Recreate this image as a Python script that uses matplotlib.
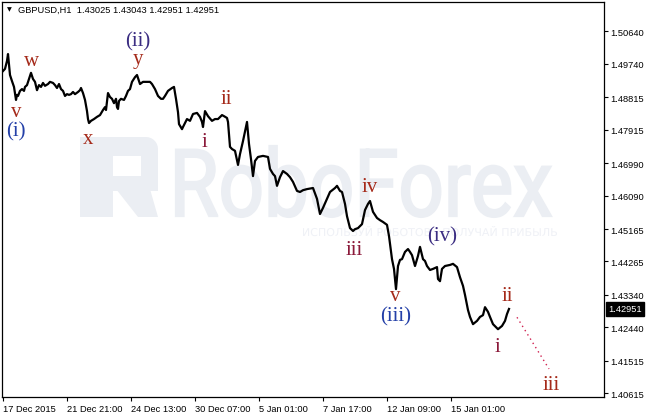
import numpy as np
import matplotlib
matplotlib.use('Agg')
import matplotlib.pyplot as plt
from matplotlib.textpath import TextPath
from matplotlib.font_manager import FontProperties
from matplotlib.patches import PathPatch, Polygon
from matplotlib.transforms import Affine2D, blended_transform_factory

W, H, DPI = 646, 414, 100

# GBPUSD H1 closes, bar = hours since the first bar on the chart
bar = [0, 2, 4, 5, 6, 7, 9, 11, 13, 14, 15, 17, 19, 21, 22, 24, 26, 28, 30, 32,
       34, 36, 38, 40, 42, 45, 47, 50, 52, 54, 56, 58, 60, 62, 64, 66, 68, 70, 72, 75,
       77, 78, 80, 82, 84, 85, 86, 88, 91, 94, 97, 100, 102, 103, 105, 107, 109, 111, 113, 114,
       115, 116, 118, 121, 123, 125,
       127, 129, 132, 134, 137, 140, 144, 147, 149, 152, 155, 158, 160, 162, 165,
       169, 171, 173, 175, 176, 179, 180, 182, 184, 187, 190, 194, 197, 199, 200,
       202, 205, 209, 212, 215, 219, 221, 224, 225, 227, 229, 232, 235, 237, 240,
       244, 246, 248, 250, 252, 255, 260, 265, 267, 270, 272, 274, 277, 280, 284,
       287, 290, 294, 297, 300, 304, 310, 314, 317, 320, 324, 327, 332, 334, 337,
       339, 342, 344, 347, 350, 352, 355, 359, 362, 365, 367, 370, 374, 377, 380,
       384, 386, 387, 389, 391, 393, 395, 397, 399, 402, 405, 407, 409, 412, 415,
       417, 420, 422, 424, 427, 430, 434, 435, 437, 439, 442, 447, 450, 454, 457,
       460, 462, 465, 467, 470, 474, 477, 480, 482, 485, 487, 490, 494, 495, 499,
       502, 504, 506]
close = [1.4954, 1.4960, 1.4982, 1.5001, 1.4971, 1.4943, 1.4926, 1.4910, 1.4874, 1.4888,
         1.4885, 1.4899, 1.4904, 1.4899, 1.4910, 1.4915, 1.4932, 1.4949, 1.4932, 1.4924,
         1.4901, 1.4915, 1.4910, 1.4921, 1.4913, 1.4918, 1.4924, 1.4921, 1.4915, 1.4907,
         1.4918, 1.4904, 1.4899, 1.4885, 1.4890, 1.4888, 1.4890, 1.4896, 1.4890, 1.4896,
         1.4901, 1.4907, 1.4893, 1.4874, 1.4843, 1.4821, 1.4810, 1.4816, 1.4821, 1.4827,
         1.4832, 1.4846, 1.4854, 1.4846, 1.4893, 1.4882, 1.4877, 1.4865, 1.4877, 1.4854,
         1.4849, 1.4871, 1.4877, 1.4874, 1.4885, 1.4899,
         1.4904, 1.4924, 1.4937, 1.4943, 1.4918, 1.4924, 1.4924, 1.4924, 1.4918, 1.4904,
         1.4885, 1.4877, 1.4877, 1.4885, 1.4899, 1.4907, 1.4910, 1.4877, 1.4840, 1.4807,
         1.4793, 1.4799, 1.4810, 1.4821, 1.4816, 1.4835, 1.4838, 1.4827, 1.4813, 1.4799,
         1.4843, 1.4829, 1.4816, 1.4821, 1.4821, 1.4832, 1.4829, 1.4824, 1.4813, 1.4744,
         1.4738, 1.4733, 1.4694, 1.4724, 1.4760, 1.4813, 1.4752, 1.4710, 1.4663, 1.4705,
         1.4716, 1.4719, 1.4716, 1.4683, 1.4669, 1.4663, 1.4636, 1.4660, 1.4677, 1.4669,
         1.4660, 1.4647, 1.4622, 1.4619, 1.4624, 1.4627, 1.4630, 1.4600, 1.4558, 1.4575,
         1.4600, 1.4619, 1.4630, 1.4636, 1.4622, 1.4619, 1.4586, 1.4552, 1.4519, 1.4511,
         1.4516, 1.4519, 1.4530, 1.4569, 1.4586, 1.4594, 1.4564, 1.4547, 1.4541, 1.4536,
         1.4528, 1.4497, 1.4475, 1.4433, 1.4406, 1.4350, 1.4414, 1.4431, 1.4433, 1.4453,
         1.4461, 1.4453, 1.4444, 1.4414, 1.4442, 1.4467, 1.4433, 1.4428, 1.4414, 1.4403,
         1.4406, 1.4411, 1.4378, 1.4372, 1.4406, 1.4414, 1.4417, 1.4420, 1.4411, 1.4383,
         1.4359, 1.4334, 1.4292, 1.4273, 1.4253, 1.4262, 1.4273, 1.4278, 1.4300, 1.4287,
         1.4273, 1.4253, 1.4242, 1.4239, 1.4248, 1.4262, 1.4281, 1.42951]

# projected wave iii
proj_bar = [514, 546]
proj_price = [1.4272, 1.4129]

# Elliott wave labels
wave_text = ['(i)', 'v', 'w', 'x', '(ii)', 'y', 'i', 'ii', 'iii', 'iv',
             'v', '(iii)', '(iv)', 'i', 'ii', 'iii']
wave_bar = [13, 13, 29, 85, 135, 135, 201, 223, 351, 367,
            392, 393, 439, 494, 504, 548]
wave_price = [1.4788, 1.4841, 1.4982, 1.4766, 1.5037, 1.4988, 1.4760, 1.4879, 1.4461, 1.4633,
              1.4331, 1.4275, 1.4497, 1.4190, 1.4331, 1.4087]
wave_color = ['#2440a8', '#a52a1a', '#a52a1a', '#a52a1a', '#3b2d82', '#a52a1a', '#8b1a3a',
              '#a52a1a', '#8b1a3a', '#a52a1a', '#a52a1a', '#2440a8', '#3b2d82', '#8b1a3a',
              '#a52a1a', '#a52a1a']

date_ticks = [0, 64, 128, 192, 256, 320, 384, 448]
date_labels = ['17 Dec 2015', '21 Dec 21:00', '24 Dec 13:00', '30 Dec 07:00',
               '5 Jan 01:00', '7 Jan 17:00', '12 Jan 09:00', '15 Jan 01:00']
price_ticks = [1.50640, 1.49740, 1.48815, 1.47915, 1.46990, 1.46090,
               1.45165, 1.44265, 1.43340, 1.42440, 1.41515, 1.40615]
last_price = 1.42951

fig = plt.figure(figsize=(W / DPI, H / DPI), dpi=DPI)
ax = fig.add_axes([2.3 / W, 1 - 398.3 / H, 602 / W, 395.6 / H])
pix = Affine2D().scale(1.0 / DPI, -1.0 / DPI).translate(0, H / DPI) + fig.dpi_scale_trans

# watermark
wm = '#ebeef3'
def fit_text(s, x0, x1, ytop, ybase, color, family, stroke=0):
    tp = TextPath((0, 0), s, size=100, prop=FontProperties(family=family))
    ext = tp.get_extents()
    tr = Affine2D().translate(-ext.x0, 0).scale((x1 - x0) / ext.width, -(ybase - ytop) / ext.y1).translate(x0, ybase)
    ax.add_patch(PathPatch(tr.transform_path(tp), fc=color, ec=color if stroke else 'none',
                           lw=stroke, transform=pix, zorder=0.5))

fit_text('RoboForex', 176, 551, 147, 217, wm, 'Roboto', stroke=1.6)
fit_text('ИСПОЛЬЗУЙ РОБОТОВ - ПОЛУЧАЙ ПРИБЫЛЬ', 303, 557, 227, 237, '#eff1f6', 'DejaVu Sans')
t = np.linspace(0, np.pi / 2, 8)
bowl = [(80, 138), (146, 138)] + [(146 + 12 * np.sin(a), 150 - 12 * np.cos(a)) for a in t] + \
       [(158, 192), (80, 192)]
ax.add_patch(Polygon(bowl, closed=True, fc=wm, ec='none', transform=pix, zorder=0.5))
ax.add_patch(Polygon([(80, 138), (113, 138), (113, 218), (80, 218)], fc=wm, ec='none', transform=pix, zorder=0.5))
ax.add_patch(Polygon([(116, 190), (150, 190), (158, 218), (138, 218)], fc=wm, ec='none', transform=pix, zorder=0.5))
ax.add_patch(Polygon([(113, 157), (141, 157), (141, 177), (113, 177)], fc='white', ec='none', transform=pix, zorder=0.6))

ax.plot(bar, close, color='black', lw=1.6, zorder=3)
ax.plot(proj_bar, proj_price, color='#d02050', lw=1.0, linestyle=(0, (1, 2.6)), zorder=3)

for s, b, p, c in zip(wave_text, wave_bar, wave_price, wave_color):
    ax.text(b, p, s, color=c, fontsize=15, family='Liberation Serif', ha='center', va='center', zorder=4)

ax.set_xlim(-0.7, 601.3)
ax.set_ylim(1.40504, 1.51460)
ax.set_xticks(date_ticks, labels=date_labels)
plt.setp(ax.get_xticklabels(), ha='left')
ax.set_yticks(price_ticks, labels=['{:.5f}'.format(v) for v in price_ticks])
ax.yaxis.tick_right()
ax.tick_params(axis='both', direction='out', length=3, width=0.8, color='black',
               labelsize=6.7, pad=1.5, labelcolor='black')
for lab in ax.get_xticklabels() + ax.get_yticklabels():
    lab.set_family('Liberation Sans')
for sp in ax.spines.values():
    sp.set_linewidth(0.9)
    sp.set_color('black')

# current price marker
ax.text(1.006, last_price, '{:.5f}'.format(last_price), transform=blended_transform_factory(ax.transAxes, ax.transData),
        color='white', fontsize=6.7, family='Liberation Sans', ha='left', va='center',
        bbox=dict(boxstyle='square,pad=0.25', fc='black', ec='black'), clip_on=False)

fig.text(7 / W, 1 - 10 / H, '▼', fontsize=4.5, color='black', va='center', ha='left')
fig.text(18 / W, 1 - 10 / H, 'GBPUSD,H1  1.43025 1.43043 1.42951 1.42951', fontsize=6.7,
         family='Liberation Sans', color='black', va='center', ha='left')

fig.savefig('out.png', dpi=DPI)
